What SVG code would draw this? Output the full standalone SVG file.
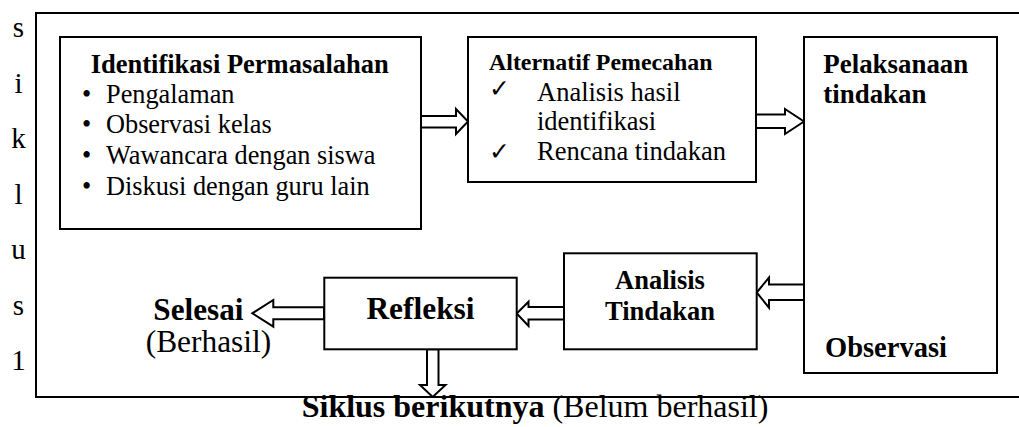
<svg xmlns="http://www.w3.org/2000/svg" width="1019" height="427" viewBox="0 0 1019 427">
<style>
text{font-family:"Liberation Serif","Times New Roman",serif;fill:#000}
.b{font-weight:bold}
.box{fill:#fff;stroke:#000;stroke-width:2}
.arr{fill:#fff;stroke:#000;stroke-width:2;stroke-linejoin:miter}
.frame{fill:none;stroke:#000;stroke-width:2}
.side{font-size:29px;text-anchor:middle}
.ck{font-family:"DejaVu Sans",sans-serif;font-size:25px}
</style>
<rect width="1019" height="427" fill="#fff"/>
<g id="frame">
<path class="frame" d="M1020,13 H36 V397 H1020"/>
<text class="side" x="18.5" y="37">s</text>
<text class="side" x="18.5" y="92.5">i</text>
<text class="side" x="18.5" y="148">k</text>
<text class="side" x="18.5" y="203.5">l</text>
<text class="side" x="18.5" y="259">u</text>
<text class="side" x="18.5" y="314.5">s</text>
<text class="side" x="18.5" y="370">1</text>
</g>
<g id="connectors">
<path class="arr" d="M421,116 H456 V109 L468,121.5 L456,134 V127.5 H421 Z"/>
<path class="arr" d="M756,114.5 H785 V109 L804,121.5 L785,134 V128 H756 Z"/>
<path class="arr" d="M804,284.5 H769 V277.5 L756.7,292.5 L769,307.7 V300 H804 Z"/>
<path class="arr" d="M564,307 H528.5 V301.7 L516.7,313.5 L528.5,326 V319.5 H564 Z"/>
<path class="arr" d="M324,307.3 H273.3 V300 L252.3,313.3 L273.3,326.7 V319.3 H324 Z"/>
<path class="arr" d="M427,349.3 V385 H420 L432.7,397 L445.5,385 H438.5 V349.3 Z"/>
</g>
<g id="identifikasi">
<rect class="box" x="60" y="37" width="361" height="192"/>
<text class="b" x="90.7" y="73" font-size="26.5">Identifikasi Permasalahan</text>
<g font-size="26.3">
<text x="82" y="102.5">•</text><text x="106" y="102.5">Pengalaman</text>
<text x="82" y="133">•</text><text x="106" y="133">Observasi kelas</text>
<text x="82" y="163.5">•</text><text x="106" y="163.5">Wawancara dengan siswa</text>
<text x="82" y="194.5">•</text><text x="106" y="194.5">Diskusi dengan guru lain</text>
</g>
</g>
<g id="alternatif">
<rect class="box" x="468" y="37" width="288" height="145"/>
<text class="b" x="489" y="70" font-size="23.9">Alternatif Pemecahan</text>
<text class="ck" x="489" y="97">✓</text>
<text class="ck" x="489" y="160">✓</text>
<g font-size="26.5">
<text x="537" y="101">Analisis hasil</text>
<text x="537" y="130">identifikasi</text>
<text x="537" y="160">Rencana tindakan</text>
</g>
</g>
<g id="pelaksanaan">
<rect class="box" x="804" y="37" width="193" height="336"/>
<text class="b" x="823.3" y="73.3" font-size="26.9">Pelaksanaan</text>
<text class="b" x="823.3" y="102.7" font-size="26.9">tindakan</text>
<text class="b" x="825" y="357.3" font-size="28.5">Observasi</text>
</g>
<g id="analisis">
<rect class="box" x="564" y="253.3" width="192.7" height="96"/>
<text class="b" x="660" y="289.3" font-size="26.5" text-anchor="middle">Analisis</text>
<text class="b" x="660" y="320" font-size="26.5" text-anchor="middle">Tindakan</text>
</g>
<g id="refleksi">
<rect class="box" x="324.3" y="277.7" width="192.4" height="71.6"/>
<text class="b" x="420.5" y="319" font-size="31.4" text-anchor="middle">Refleksi</text>
</g>
<g id="selesai">
<text class="b" x="153.3" y="320" font-size="31.2">Selesai</text>
<text x="145.7" y="351.7" font-size="31.4">(Berhasil)</text>
</g>
<g id="siklus-berikutnya">
<text x="301.7" y="417" font-size="32"><tspan class="b">Siklus berikutnya</tspan> (Belum berhasil)</text>
</g>
</svg>
